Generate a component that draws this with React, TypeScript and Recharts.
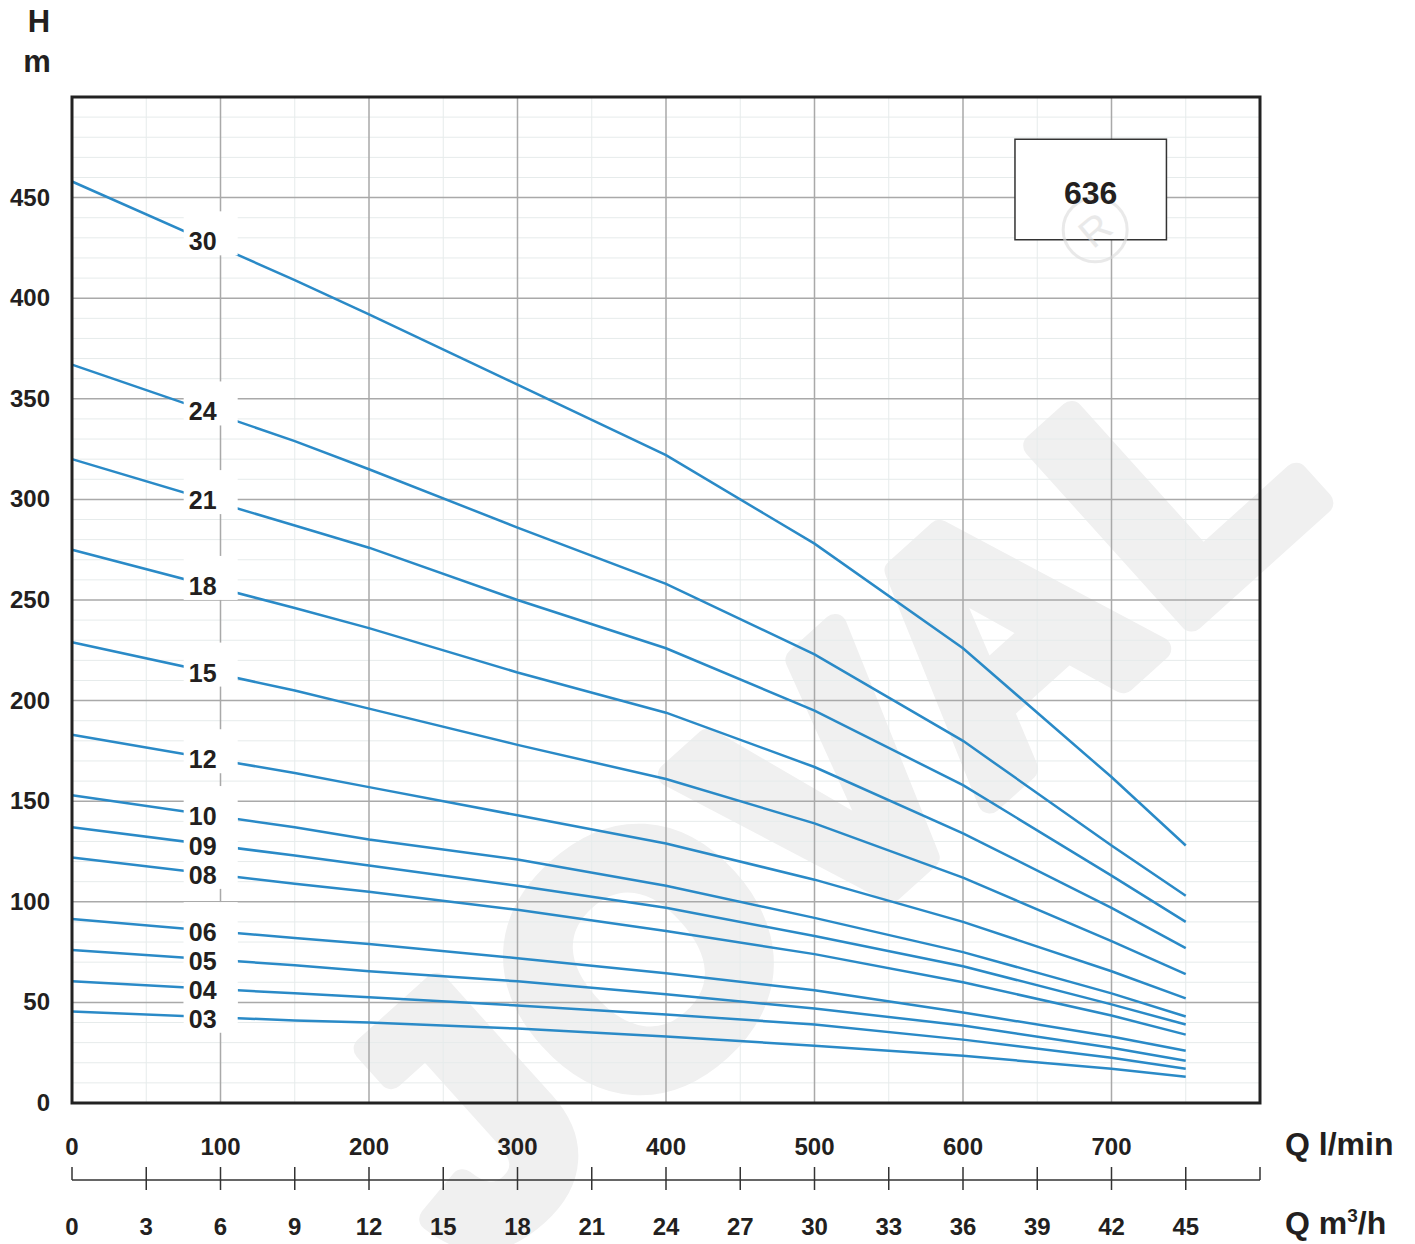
import {
  LineChart,
  Line,
  XAxis,
  YAxis,
  CartesianGrid,
  ReferenceArea,
  ReferenceDot,
} from "recharts";

// flow rate in l/min where the head of each pump is read
const flow = [0, 150, 200, 300, 400, 500, 600, 700, 750];

// head in m, one list per stage count
const stage30 = [458, 409, 392, 357, 322, 278, 226, 162, 128];
const stage24 = [367, 329, 315, 286, 258, 223, 180, 128, 103];
const stage21 = [320, 287, 276, 250, 226, 195, 158, 113, 90];
const stage18 = [275, 246, 236, 214, 194, 167, 134, 97, 77];
const stage15 = [229, 205, 196, 178, 161, 139, 112, 80.5, 64];
const stage12 = [183, 164, 157, 143, 129, 111, 90, 65.5, 52];
const stage10 = [153, 137, 131, 121, 108, 92, 75, 54.5, 43];
const stage09 = [137, 123, 118, 108, 97, 83, 68, 49, 39];
const stage08 = [122, 109, 105, 96, 85.5, 74, 60, 43.5, 34];
const stage06 = [91.5, 82, 79, 72, 64.5, 56, 45, 33, 26];
const stage05 = [76, 68.5, 65.5, 60.5, 54, 47, 38.5, 27.5, 21];
const stage04 = [60.5, 54.5, 52.5, 48.5, 44, 39, 31.5, 22.5, 17];
const stage03 = [45.5, 41, 40, 37, 33, 28.5, 23.5, 17, 13];

const curves = [
  { name: "30", values: stage30 },
  { name: "24", values: stage24 },
  { name: "21", values: stage21 },
  { name: "18", values: stage18 },
  { name: "15", values: stage15 },
  { name: "12", values: stage12 },
  { name: "10", values: stage10 },
  { name: "09", values: stage09 },
  { name: "08", values: stage08 },
  { name: "06", values: stage06 },
  { name: "05", values: stage05 },
  { name: "04", values: stage04 },
  { name: "03", values: stage03 },
];

const flowTicks = [0, 100, 200, 300, 400, 500, 600, 700];
const cubicTicks = [0, 3, 6, 9, 12, 15, 18, 21, 24, 27, 30, 33, 36, 39, 42, 45];
const headTicks = [0, 50, 100, 150, 200, 250, 300, 350, 400, 450];

const headMajor = [50, 100, 150, 200, 250, 300, 350, 400, 450];
const headMinor = Array.from({ length: 49 }, (_, i) => (i + 1) * 10).filter((v) => v % 50 !== 0);
const flowMajor = [100, 200, 300, 400, 500, 600, 700];
const flowMinor = [50, 150, 250, 350, 450, 550, 650, 750];

const LABEL_Q = 88;
const BLUE = "#2a8ac7";
const INK = "#231f20";
const FONT = "'Liberation Sans', Arial, Helvetica, sans-serif";

const data = flow.map((q, i) => {
  const row: Record<string, number> = { q };
  for (const c of curves) row[c.name] = c.values[i];
  return row;
});

// m3/h -> l/min
const cubicToFlow = (v: number) => (v * 1000) / 60;

function headAt(values: number[], q: number) {
  for (let i = 1; i < flow.length; i++) {
    if (q <= flow[i]) {
      const t = (q - flow[i - 1]) / (flow[i] - flow[i - 1]);
      return values[i - 1] + (values[i] - values[i - 1]) * t;
    }
  }
  return values[values.length - 1];
}

function FlowTick({ x, y, payload }: any) {
  return (
    <text x={x} y={y + 52} textAnchor="middle" fontSize={24} fontWeight="bold" fill={INK} fontFamily={FONT}>
      {payload.value}
    </text>
  );
}

function CubicTick({ x, y, payload }: any) {
  const v = payload.value as number;
  const edge = v === 0 || v >= 800;
  return (
    <g>
      <line x1={x} x2={x} y1={y - 13} y2={edge ? y : y + 10} stroke="#333" strokeWidth={1.5} />
      {v < 800 && (
        <text x={x} y={y + 55} textAnchor="middle" fontSize={24} fontWeight="bold" fill={INK} fontFamily={FONT}>
          {Math.round((v * 60) / 1000)}
        </text>
      )}
    </g>
  );
}

function HeadTick({ x, y, payload }: any) {
  return (
    <text x={x - 22} y={y} dy={8} textAnchor="end" fontSize={24} fontWeight="bold" fill={INK} fontFamily={FONT}>
      {payload.value}
    </text>
  );
}

// white patch that cuts the curve and grid where the stage number sits
function LabelPatch({ cx, cy }: any) {
  return <rect x={cx - 19} y={cy - 28} width={54} height={44} fill="#fff" />;
}

function LabelText({ cx, cy, name }: any) {
  return (
    <text x={cx} y={cy} dy={11} textAnchor="middle" fontSize={25} fontWeight="bold" fill={INK} fontFamily={FONT}>
      {name}
    </text>
  );
}

function RegisteredMark({ cx, cy }: any) {
  return (
    <g opacity={0.6}>
      <circle cx={cx} cy={cy} r={32} fill="none" stroke="#dcdcdc" strokeWidth={3} />
      <text
        x={cx}
        y={cy}
        dy={14}
        textAnchor="middle"
        fontSize={40}
        fill="#dcdcdc"
        fontFamily={FONT}
        transform={`rotate(-40 ${cx} ${cy})`}
      >
        R
      </text>
    </g>
  );
}

export default function App() {
  return (
    <div style={{ position: "absolute", left: 0, top: 0, width: 1415, height: 1244, background: "#fff" }}>
      <svg width={1415} height={1244} style={{ position: "absolute", left: 0, top: 0 }}>
        <text
          x={825}
          y={791}
          textAnchor="middle"
          dominantBaseline="central"
          fontSize={340}
          fontWeight="bold"
          letterSpacing={12}
          fill="#f0f0f0"
          stroke="#f0f0f0"
          strokeWidth={24}
          strokeLinejoin="round"
          fontFamily={FONT}
          transform="rotate(-42 825 791)"
        >
          JOVAL
        </text>
      </svg>
      <div style={{ position: "absolute", left: 0, top: 0 }}>
        <LineChart width={1415} height={1244} data={data} margin={{ top: 97, right: 155, bottom: 0, left: 0 }}>
          <CartesianGrid
            horizontalValues={headMinor}
            verticalValues={flowMinor}
            stroke="#e6ebeb"
            strokeWidth={1}
          />
          <CartesianGrid
            horizontalValues={headMajor}
            verticalValues={flowMajor}
            stroke="#a9a9a9"
            strokeWidth={1.5}
          />
          <XAxis
            dataKey="q"
            type="number"
            domain={[0, 800]}
            ticks={flowTicks}
            interval={0}
            height={77}
            axisLine={false}
            tickLine={false}
            tickSize={0}
            tickMargin={0}
            tick={<FlowTick />}
          />
          <XAxis
            xAxisId="m3"
            dataKey="q"
            type="number"
            domain={[0, 800]}
            ticks={[...cubicTicks.map(cubicToFlow), 800]}
            interval={0}
            height={64}
            axisLine={{ stroke: "#333", strokeWidth: 1.5 }}
            tickLine={false}
            tickSize={0}
            tickMargin={0}
            tick={<CubicTick />}
          />
          <YAxis
            type="number"
            domain={[0, 500]}
            ticks={headTicks}
            interval={0}
            width={72}
            axisLine={false}
            tickLine={false}
            tickSize={0}
            tickMargin={0}
            tick={<HeadTick />}
          />
          {curves.map((c) => (
            <Line
              key={c.name}
              dataKey={c.name}
              type="linear"
              stroke={BLUE}
              strokeWidth={2.5}
              dot={false}
              isAnimationActive={false}
            />
          ))}
          {curves.map((c) => (
            <ReferenceDot
              key={"patch" + c.name}
              x={LABEL_Q}
              y={headAt(c.values, LABEL_Q)}
              r={0}
              zIndex={700}
              shape={(p: any) => <LabelPatch {...p} />}
            />
          ))}
          {curves.map((c) => (
            <ReferenceDot
              key={"text" + c.name}
              x={LABEL_Q}
              y={headAt(c.values, LABEL_Q)}
              r={0}
              zIndex={750}
              shape={(p: any) => <LabelText {...p} name={c.name} />}
            />
          ))}
          <ReferenceArea
            x1={635}
            x2={737}
            y1={429}
            y2={479}
            fill="#fff"
            fillOpacity={1}
            stroke="#333"
            strokeWidth={1.5}
            zIndex={700}
            label={{ value: "636", position: "center", dy: 3, fontSize: 32, fontWeight: "bold", fill: INK, fontFamily: FONT }}
          />
          <ReferenceDot x={689} y={434} r={0} zIndex={710} shape={(p: any) => <RegisteredMark {...p} />} />
          <ReferenceArea
            x1={0}
            x2={800}
            y1={0}
            y2={500}
            fill="none"
            stroke="#222"
            strokeWidth={3}
            zIndex={800}
          />
        </LineChart>
      </div>
      <svg width={1415} height={1244} style={{ position: "absolute", left: 0, top: 0, pointerEvents: "none" }}>
        <g fontFamily={FONT} fontWeight="bold" fill={INK}>
          <text x={39} y={32} textAnchor="middle" fontSize={31}>H</text>
          <text x={37} y={72} textAnchor="middle" fontSize={31}>m</text>
          <text x={1285} y={1155} fontSize={32}>Q l/min</text>
          <text x={1285} y={1234} fontSize={32}>
            Q m<tspan dy={-12} fontSize={19}>3</tspan><tspan dy={12}>/h</tspan>
          </text>
        </g>
      </svg>
    </div>
  );
}
